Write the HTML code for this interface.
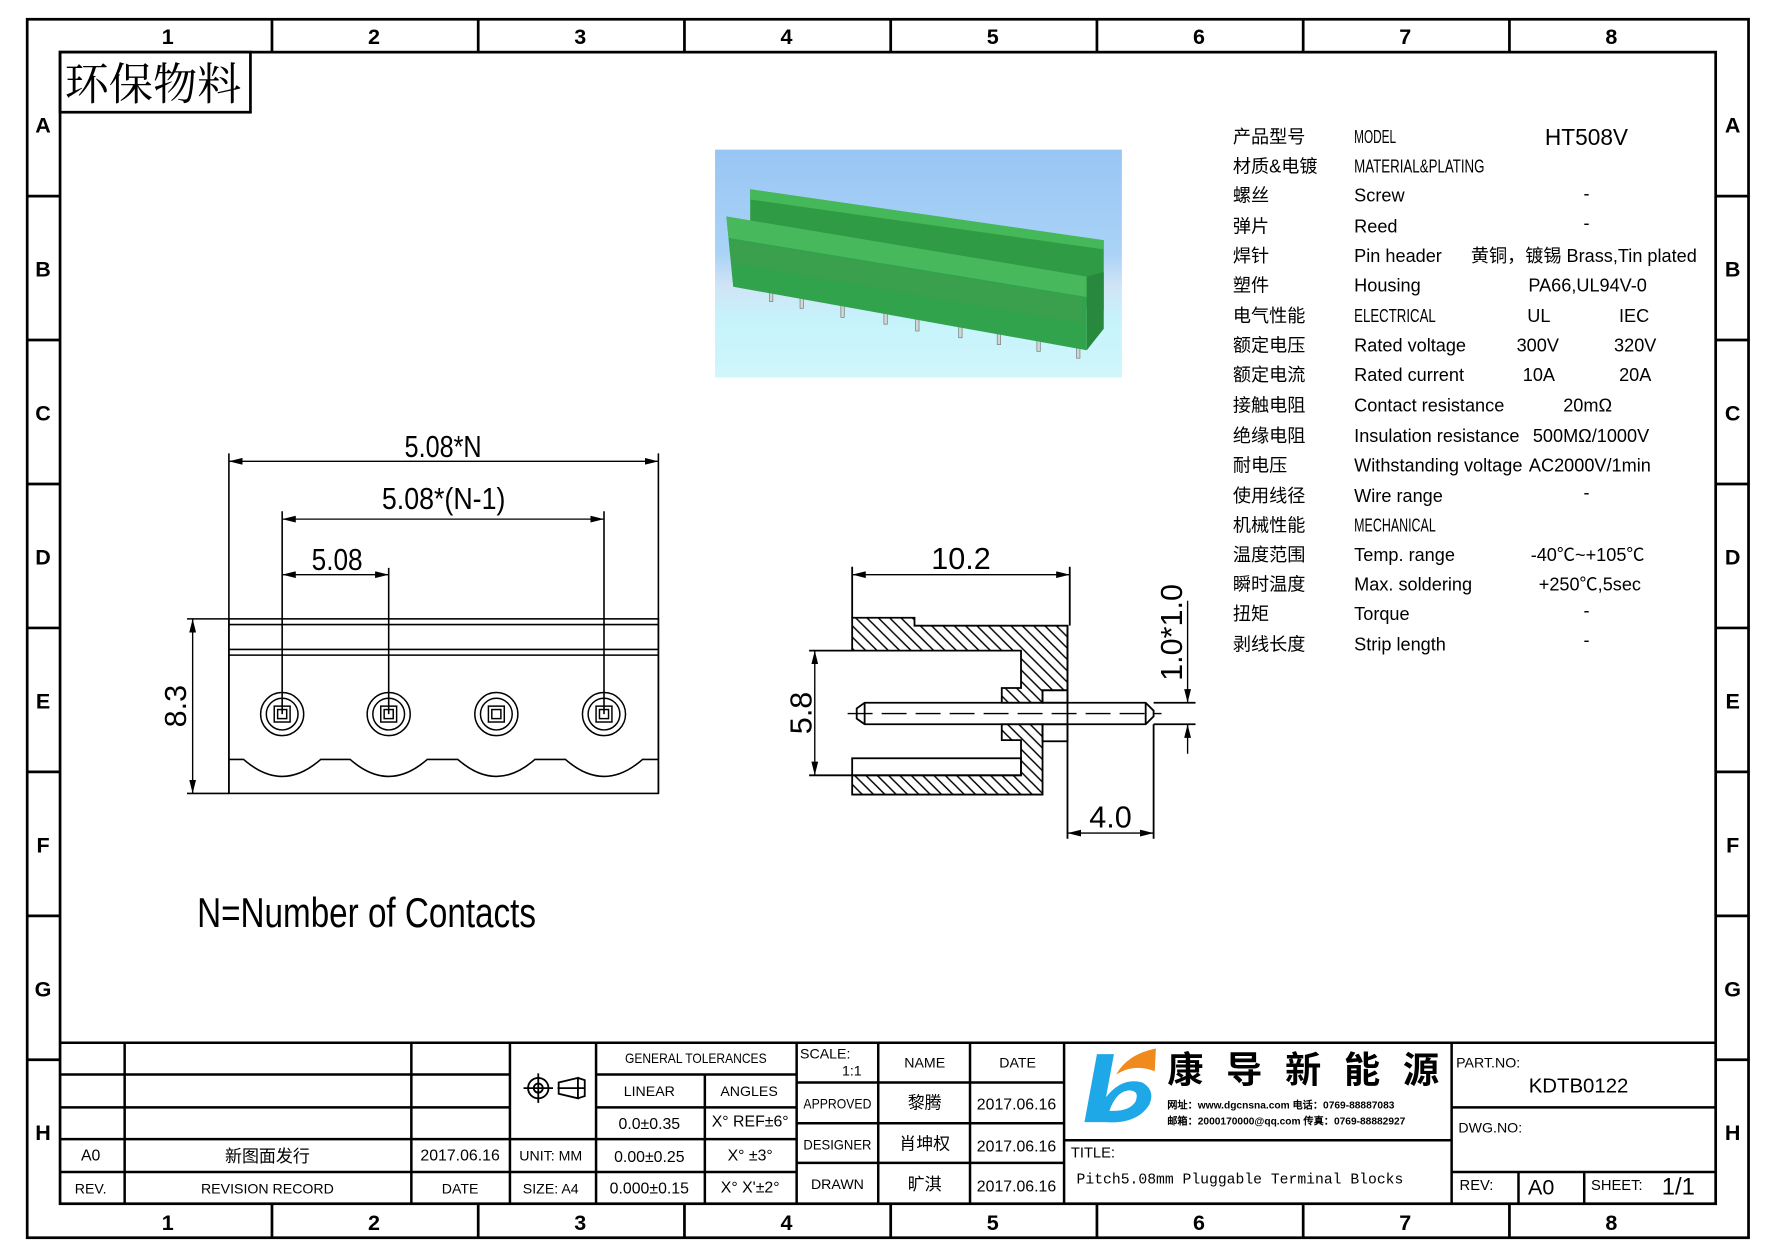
<!DOCTYPE html>
<html><head><meta charset="utf-8"><style>
html,body{margin:0;padding:0;background:#fff;}
svg{display:block;}
text{font-family:"Liberation Sans Narrow","Liberation Sans","Noto Sans CJK SC",sans-serif;fill:#000;}
.n{font-family:"Liberation Sans",sans-serif;font-weight:bold;font-size:19px;text-anchor:middle;}
.s{font-size:16px;}
.c{text-anchor:middle;}
.t{font-size:12.5px;text-anchor:middle;}
</style></head><body>
<svg width="1778" height="1257" viewBox="0 0 1569 1109" preserveAspectRatio="none" xmlns="http://www.w3.org/2000/svg">
<defs>
<pattern id="h" patternUnits="userSpaceOnUse" width="10" height="10">
<path d="M-2,-2 L12,12 M-2,8 L2,12 M8,-2 L12,2" stroke="#000" stroke-width="1.3"/>
</pattern>
<linearGradient id="sky" x1="0" y1="0" x2="0" y2="1">
<stop offset="0" stop-color="#98c6f4"/><stop offset="0.45" stop-color="#a9d2f6"/><stop offset="0.6" stop-color="#d0e4f6"/><stop offset="0.75" stop-color="#c6f3fb"/><stop offset="1" stop-color="#cff6fb"/>
</linearGradient>
<marker id="a" markerWidth="12" markerHeight="6" refX="12" refY="3" orient="auto" markerUnits="userSpaceOnUse"><path d="M0,0 L12,3 L0,6 z" fill="#000"/></marker>
<marker id="b" markerWidth="12" markerHeight="6" refX="0" refY="3" orient="auto" markerUnits="userSpaceOnUse"><path d="M12,0 L0,3 L12,6 z" fill="#000"/></marker>
</defs>

<!-- frames -->
<g fill="none" stroke="#000" stroke-width="2.4">
<rect x="24" y="17" width="1519" height="1075"/>
<rect x="53" y="46" width="1461" height="1016"/>
<path d="M240,17V46 M422,17V46 M604,17V46 M786,17V46 M968,17V46 M1150,17V46 M1332,17V46"/>
<path d="M240,1062V1092 M422,1062V1092 M604,1062V1092 M786,1062V1092 M968,1062V1092 M1150,1062V1092 M1332,1062V1092"/>
<path d="M24,173H53 M24,300H53 M24,427H53 M24,554H53 M24,681H53 M24,808H53 M24,935H53"/>
<path d="M1514,173H1543 M1514,300H1543 M1514,427H1543 M1514,554H1543 M1514,681H1543 M1514,808H1543 M1514,935H1543"/>
<rect x="53" y="46" width="168" height="53"/>
</g>
<g class="n">
<text x="148" y="39">1</text><text x="330" y="39">2</text><text x="512" y="39">3</text><text x="694" y="39">4</text><text x="876" y="39">5</text><text x="1058" y="39">6</text><text x="1240" y="39">7</text><text x="1422" y="39">8</text>
<text x="148" y="1085">1</text><text x="330" y="1085">2</text><text x="512" y="1085">3</text><text x="694" y="1085">4</text><text x="876" y="1085">5</text><text x="1058" y="1085">6</text><text x="1240" y="1085">7</text><text x="1422" y="1085">8</text>
<text x="38" y="117">A</text><text x="38" y="244">B</text><text x="38" y="371">C</text><text x="38" y="498">D</text><text x="38" y="625">E</text><text x="38" y="752">F</text><text x="38" y="879">G</text><text x="38" y="1006">H</text>
<text x="1529" y="117">A</text><text x="1529" y="244">B</text><text x="1529" y="371">C</text><text x="1529" y="498">D</text><text x="1529" y="625">E</text><text x="1529" y="752">F</text><text x="1529" y="879">G</text><text x="1529" y="1006">H</text>
</g>
<text x="57" y="88" style="font-family:'Noto Serif CJK SC','Noto Sans CJK SC',serif;font-size:39px">环保物料</text>

<!-- photo -->
<rect x="631" y="132" width="359" height="201" fill="url(#sky)"/>
<polygon points="662,167 974,212 974,274 662,230" fill="#2f9c45"/>
<polygon points="662,167 974,212 974,220 662,176" fill="#45b85a"/>
<g fill="#cfd8d0" stroke="#777" stroke-width="0.6">
<rect x="706" y="258" width="3" height="14"/><rect x="742" y="264" width="3" height="16"/><rect x="780" y="270" width="3" height="16"/><rect x="808" y="276" width="3" height="16"/><rect x="846" y="282" width="3" height="16"/><rect x="880" y="288" width="3" height="16"/><rect x="915" y="294" width="3" height="16"/><rect x="950" y="300" width="3" height="16"/><rect x="679" y="254" width="3" height="12"/>
</g>
<polygon points="641,191 959,244 959,309 647,253" fill="#30a34c"/>
<polygon points="641,191 959,244 959,262 643,210" fill="#47b85c"/>
<polygon points="645,212 955,262 955,285 646,232" fill="#3d9f4e" opacity="0.8"/>
<polygon points="959,244 974,240 974,290 959,309" fill="#28893e"/>

<!-- front view -->
<g fill="none" stroke="#000" stroke-width="1.4">
<path d="M202,400V700 M581,400V700 M249,451V630 M343,501V630 M533,451V630"/>
<rect x="202" y="546" width="379" height="154"/>
<path d="M202,551H581 M202,573H581 M202,578H581"/>
<path d="M165,546H202 M165,700H202"/>
<path d="M202,670 H215 Q249,700 283,670 H309 Q343,700 377,670 H404 Q438,700 472,670 H499 Q533,700 567,670 H581"/>
</g>
<g fill="none" stroke="#000" stroke-width="1.2">
<line x1="202" y1="407" x2="581" y2="407" marker-start="url(#b)" marker-end="url(#a)"/>
<line x1="249" y1="458" x2="533" y2="458" marker-start="url(#b)" marker-end="url(#a)"/>
<line x1="249" y1="507" x2="343" y2="507" marker-start="url(#b)" marker-end="url(#a)"/>
<line x1="170" y1="546" x2="170" y2="700" marker-start="url(#b)" marker-end="url(#a)"/>
</g>
<g fill="none" stroke="#000" stroke-width="1.3">
<circle cx="249" cy="630" r="19"/><circle cx="249" cy="630" r="14"/><rect x="242" y="623" width="14" height="14"/><rect x="245" y="626" width="8" height="8"/>
<circle cx="343" cy="630" r="19"/><circle cx="343" cy="630" r="14"/><rect x="336" y="623" width="14" height="14"/><rect x="339" y="626" width="8" height="8"/>
<circle cx="438" cy="630" r="19"/><circle cx="438" cy="630" r="14"/><rect x="431" y="623" width="14" height="14"/><rect x="434" y="626" width="8" height="8"/>
<circle cx="533" cy="630" r="19"/><circle cx="533" cy="630" r="14"/><rect x="526" y="623" width="14" height="14"/><rect x="529" y="626" width="8" height="8"/>
</g>
<g style="font-size:27px">
<text x="357" y="403" textLength="68" lengthAdjust="spacingAndGlyphs">5.08*N</text>
<text x="337" y="449" textLength="109" lengthAdjust="spacingAndGlyphs">5.08*(N-1)</text>
<text x="275" y="503" textLength="45" lengthAdjust="spacingAndGlyphs">5.08</text>
<text x="0" y="0" class="c" transform="translate(164,623) rotate(-90)">8.3</text>
</g>
<text x="174" y="818" style="font-size:37px" textLength="299" lengthAdjust="spacingAndGlyphs">N=Number of Contacts</text>

<!-- side view -->
<path d="M752,545 H807 V552 H942 V609 H920 V620 H884 V607 H901 V574 H752 Z" fill="url(#h)" stroke="#000" stroke-width="1.6"/>
<path d="M884,639 H920 V701 H752 V684 H901 V653 H884 Z" fill="url(#h)" stroke="#000" stroke-width="1.6"/>
<g fill="none" stroke="#000" stroke-width="1.6">
<rect x="920" y="609" width="22" height="11"/>
<rect x="920" y="639" width="22" height="15"/>
<rect x="752" y="669" width="149" height="15"/>
<path d="M942,552 V740 M752,500 V545 M944,500 V552 M1018,639 V740"/>
<path d="M763,620 H1011 L1018,627 V632 L1011,639 H763 L756,634 V625 Z"/>
<path d="M763,620 V639 M1011,620 V639"/>
<path d="M714,574 H752 M714,684 H752 M1018,620 H1055 M1018,639 H1055"/>
</g>
<path d="M748,629.5 H1025" stroke="#000" stroke-width="1.2" stroke-dasharray="22,8" fill="none"/>
<g fill="none" stroke="#000" stroke-width="1.2">
<line x1="752" y1="507" x2="944" y2="507" marker-start="url(#b)" marker-end="url(#a)"/>
<line x1="719" y1="574" x2="719" y2="684" marker-start="url(#b)" marker-end="url(#a)"/>
<line x1="942" y1="735" x2="1018" y2="735" marker-start="url(#b)" marker-end="url(#a)"/>
<line x1="1048" y1="530" x2="1048" y2="620" marker-end="url(#a)"/>
<line x1="1048" y1="665" x2="1048" y2="639" marker-end="url(#a)"/>
</g>
<g style="font-size:27px" class="c">
<text x="848" y="502">10.2</text>
<text x="980" y="730">4.0</text>
<text x="0" y="0" transform="translate(716,629) rotate(-90)">5.8</text>
<text x="0" y="0" transform="translate(1043,558) rotate(-90)">1.0*1.0</text>
</g>

<!-- spec table -->
<g class="s">
<text x="1088" y="126">产品型号</text><text x="1195" y="126" textLength="37" lengthAdjust="spacingAndGlyphs">MODEL</text><text x="1400" y="128" class="c" style="font-size:20px">HT508V</text>
<text x="1088" y="152">材质&amp;电镀</text><text x="1195" y="152" textLength="115" lengthAdjust="spacingAndGlyphs">MATERIAL&amp;PLATING</text>
<text x="1088" y="178">螺丝</text><text x="1195" y="178">Screw</text><text x="1400" y="176" class="c">-</text>
<text x="1088" y="205">弹片</text><text x="1195" y="205">Reed</text><text x="1400" y="202" class="c">-</text>
<text x="1088" y="231">焊针</text><text x="1195" y="231">Pin header</text><text x="1298" y="231">黄铜，镀锡 Brass,Tin plated</text>
<text x="1088" y="257">塑件</text><text x="1195" y="257">Housing</text><text x="1401" y="257" class="c">PA66,UL94V-0</text>
<text x="1088" y="284">电气性能</text><text x="1195" y="284" textLength="72" lengthAdjust="spacingAndGlyphs">ELECTRICAL</text><text x="1358" y="284" class="c">UL</text><text x="1442" y="284" class="c">IEC</text>
<text x="1088" y="310">额定电压</text><text x="1195" y="310">Rated voltage</text><text x="1357" y="310" class="c">300V</text><text x="1443" y="310" class="c">320V</text>
<text x="1088" y="336">额定电流</text><text x="1195" y="336">Rated current</text><text x="1358" y="336" class="c">10A</text><text x="1443" y="336" class="c">20A</text>
<text x="1088" y="363">接触电阻</text><text x="1195" y="363">Contact resistance</text><text x="1401" y="363" class="c">20mΩ</text>
<text x="1088" y="390">绝缘电阻</text><text x="1195" y="390">Insulation resistance</text><text x="1404" y="390" class="c">500MΩ/1000V</text>
<text x="1088" y="416">耐电压</text><text x="1195" y="416">Withstanding voltage</text><text x="1403" y="416" class="c">AC2000V/1min</text>
<text x="1088" y="443">使用线径</text><text x="1195" y="443">Wire range</text><text x="1400" y="440" class="c">-</text>
<text x="1088" y="469">机械性能</text><text x="1195" y="469" textLength="72" lengthAdjust="spacingAndGlyphs">MECHANICAL</text>
<text x="1088" y="495">温度范围</text><text x="1195" y="495">Temp. range</text><text x="1401" y="495" class="c">-40℃~+105℃</text>
<text x="1088" y="521">瞬时温度</text><text x="1195" y="521">Max. soldering</text><text x="1403" y="521" class="c">+250℃,5sec</text>
<text x="1088" y="547">扭矩</text><text x="1195" y="547">Torque</text><text x="1400" y="544" class="c">-</text>
<text x="1088" y="574">剥线长度</text><text x="1195" y="574">Strip length</text><text x="1400" y="570" class="c">-</text>
</g>

<!-- title block -->
<g fill="none" stroke="#000" stroke-width="2.2">
<path d="M53,920 H1514"/>
<path d="M53,948 H450 M53,977 H450 M53,1005 H450 M53,1034 H450"/>
<path d="M450,1005 H703 M450,1034 H703 M526,948 H703 M526,977 H703"/>
<path d="M110,920V1062 M363,920V1062 M450,920V1062 M526,920V1062 M622,948V1062 M703,920V1062 M775,920V1062 M856,920V1062 M939,920V1062"/>
<path d="M703,955 H939 M703,991 H939 M703,1026 H939"/>
<path d="M939,1006 H1281 M1281,920 V1062 M1281,977 H1514 M1281,1034 H1514 M1340,1034 V1062 M1398,1034 V1062"/>
</g>
<g class="t">
<text x="614" y="938" textLength="125" lengthAdjust="spacingAndGlyphs">GENERAL TOLERANCES</text>
<text x="573" y="967">LINEAR</text><text x="661" y="967">ANGLES</text>
<text x="573" y="996" style="font-size:14px">0.0±0.35</text><text x="662" y="994" style="font-size:14px">X° REF±6°</text>
<text x="573" y="1025" style="font-size:14px">0.00±0.25</text><text x="662" y="1024" style="font-size:14px">X° ±3°</text>
<text x="573" y="1053" style="font-size:14px">0.000±0.15</text><text x="662" y="1052" style="font-size:14px">X° X'±2°</text>
<text x="486" y="1024">UNIT: MM</text><text x="486" y="1053">SIZE: A4</text>
<text x="80" y="1024" style="font-size:14px">A0</text><text x="80" y="1053">REV.</text>
<text x="236" y="1025" style="font-size:15px">新图面发行</text><text x="236" y="1053">REVISION RECORD</text>
<text x="406" y="1024" style="font-size:14px">2017.06.16</text><text x="406" y="1053">DATE</text>
<text x="816" y="942">NAME</text><text x="898" y="942">DATE</text>
<text x="739" y="978" textLength="60" lengthAdjust="spacingAndGlyphs">APPROVED</text><text x="816" y="978" style="font-size:15px">黎腾</text><text x="897" y="979" style="font-size:14px">2017.06.16</text>
<text x="739" y="1014" textLength="60" lengthAdjust="spacingAndGlyphs">DESIGNER</text><text x="816" y="1014" style="font-size:15px">肖坤权</text><text x="897" y="1016" style="font-size:14px">2017.06.16</text>
<text x="739" y="1049">DRAWN</text><text x="816" y="1050" style="font-size:15px">旷淇</text><text x="897" y="1051" style="font-size:14px">2017.06.16</text>
</g>
<text x="706" y="934" style="font-size:12.5px">SCALE:</text><text x="743" y="949" style="font-size:12.5px">1:1</text>
<!-- symbol -->
<g fill="none" stroke="#000" stroke-width="1.6">
<circle cx="475" cy="960" r="9"/><circle cx="475" cy="960" r="4"/><path d="M462,960H488 M475,947V973"/>
<path d="M492,960 H516 M493,955 L510,951 V969 L493,965 Z M510,951 L516,953 V967 L510,969"/>
</g>
<!-- logo -->
<path d="M968,930 L983,930 L976,968 Q990,950 1008,955 Q1020,962 1014,975 Q1003,992 975,990 L957,990 Z M979,980 Q996,981 1002,972 Q1006,962 996,962 Q985,963 979,980 Z" fill="#1ea8e8" fill-rule="evenodd"/>
<path d="M985,948 Q995,930 1020,925 L1019,945 Q1000,938 985,948 Z" fill="#f08a1c"/>
<text x="1030" y="955" style="font-family:'Noto Sans CJK SC',sans-serif;font-size:32px;font-weight:bold;letter-spacing:20px">康导新能源</text>
<text x="1030" y="978" style="font-family:'Liberation Sans',sans-serif;font-size:9px;font-weight:bold">网址：www.dgcnsna.com   电话：0769-88887083</text>
<text x="1030" y="992" style="font-family:'Liberation Sans',sans-serif;font-size:9px;font-weight:bold">邮箱：2000170000@qq.com 传真：0769-88882927</text>
<text x="945" y="1021" style="font-size:13px">TITLE:</text>
<text x="950" y="1044" style="font-family:'Liberation Mono',monospace;font-size:13px">Pitch5.08mm Pluggable Terminal Blocks</text>
<text x="1285" y="942" style="font-size:12.5px">PART.NO:</text>
<text x="1393" y="964" class="c" style="font-size:18px">KDTB0122</text>
<text x="1287" y="999" style="font-size:12.5px">DWG.NO:</text>
<text x="1288" y="1050" style="font-size:13px">REV:</text>
<text x="1360" y="1054" class="c" style="font-size:19px">A0</text>
<text x="1404" y="1050" style="font-size:13px">SHEET:</text>
<text x="1481" y="1054" class="c" style="font-size:21px">1/1</text>
</svg>
</body></html>
